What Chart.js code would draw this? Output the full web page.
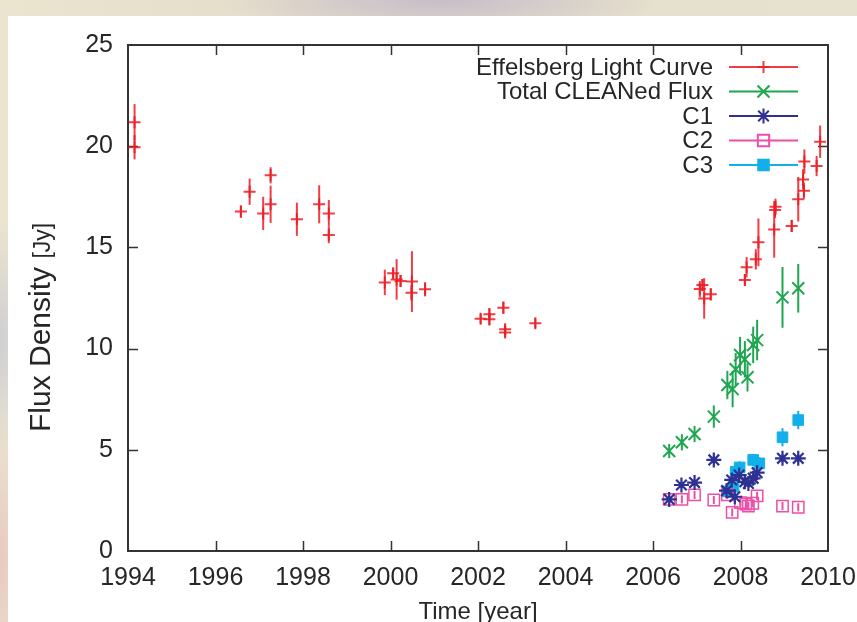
<!DOCTYPE html>
<html>
<head>
<meta charset="utf-8">
<title>Flux Density</title>
<script src="https://cdn.jsdelivr.net/npm/chart.js@4.4.0/dist/chart.umd.min.js"></script>
<style>
html, body { margin: 0; padding: 0; }
body {
    width: 857px; height: 622px; overflow: hidden; position: relative;
    background:
        radial-gradient(ellipse 220px 40px at 440px 0px, #c6bec8 0%, rgba(198,190,200,0) 100%),
        radial-gradient(ellipse 30px 120px at 0px 340px, #cfcfd2 0%, rgba(207,207,210,0) 100%),
        radial-gradient(ellipse 30px 140px at 0px 560px, #e9c9c2 0%, rgba(233,201,194,0) 100%),
        linear-gradient(90deg, #ebe4cf 0%, #e4dccb 40%, #e7e2cf 100%);
}
#card { position: absolute; left: 8px; top: 16px; right: 0; bottom: 0; background: #fff; }
#fluxChart { position: absolute; left: 0; top: 0; }
</style>
</head>
<body>
<div id="card"></div>
<canvas id="fluxChart" width="857" height="622"></canvas>
<script>
const yearTicks = [1994, 1996, 1998, 2000, 2002, 2004, 2006, 2008, 2010];
const fluxTicks = [0, 5, 10, 15, 20, 25];

// Effelsberg single-dish light curve
const effYear = [1994.15, 1994.15, 1996.58, 1996.78, 1997.09, 1997.26, 1997.26, 1997.86, 1998.37, 1998.59, 1998.59,
    1999.87, 2000.06, 2000.14, 2000.23, 2000.49, 2000.48, 2000.79, 2002.06, 2002.26, 2002.26, 2002.58, 2002.62, 2002.62, 2003.31,
    2007.07, 2007.13, 2007.17, 2007.32, 2008.10, 2008.14, 2008.35, 2008.41, 2008.77, 2008.79, 2008.80,
    2009.17, 2009.32, 2009.43, 2009.45, 2009.46, 2009.74, 2009.82];
const effFlux = [21.18, 19.95, 16.77, 17.75, 16.68, 18.56, 17.13, 16.39, 17.13, 16.68, 15.61,
    13.27, 13.72, 13.42, 13.34, 13.31, 12.76, 12.93, 11.48, 11.70, 11.45, 12.02, 10.95, 10.80, 11.25,
    12.94, 13.14, 12.48, 12.68, 13.39, 14.02, 14.41, 15.25, 15.89, 16.85, 17.01,
    16.06, 17.38, 18.36, 17.80, 19.24, 19.02, 20.22];
const effErr = [0.9, 0.6, 0.3, 0.65, 0.82, 0.4, 0.92, 0.82, 0.94, 0.66, 0.4,
    0.63, 0.25, 1.0, 0.3, 1.5, 0.4, 0.35, 0.25, 0.3, 0.3, 0.3, 0.25, 0.25, 0.25,
    0.4, 0.3, 1.0, 0.3, 0.3, 0.5, 0.5, 1.18, 1.4, 0.4, 0.4,
    0.3, 1.1, 0.5, 0.4, 0.6, 0.5, 0.8];

// VLBI: total CLEANed flux and model components
const totYear = [2006.37, 2006.66, 2006.95, 2007.39, 2007.70, 2007.82, 2007.89, 2007.99, 2008.10, 2008.16, 2008.29, 2008.38, 2008.96, 2009.32];
const totFlux = [4.94, 5.37, 5.78, 6.64, 8.20, 8.00, 8.98, 9.68, 9.47, 8.58, 10.18, 10.42, 12.53, 12.98];
const totErr = [0.35, 0.4, 0.4, 0.55, 0.7, 0.9, 0.8, 0.9, 0.9, 0.7, 0.9, 1.0, 1.5, 1.2];

const c1Year = [2006.37, 2006.65, 2006.95, 2007.39, 2007.68, 2007.80, 2007.87, 2007.97, 2008.10, 2008.18, 2008.29, 2008.38, 2008.96, 2009.32];
const c1Flux = [2.55, 3.26, 3.38, 4.50, 2.98, 3.51, 2.68, 3.75, 3.42, 3.34, 3.59, 3.87, 4.58, 4.58];
const c1Err = [0.15, 0.15, 0.15, 0.2, 0.15, 0.2, 0.15, 0.2, 0.2, 0.15, 0.2, 0.2, 0.2, 0.2];

const c2Year = [2006.37, 2006.66, 2006.95, 2007.39, 2007.70, 2007.81, 2008.00, 2008.12, 2008.18, 2008.28, 2008.38, 2008.96, 2009.32];
const c2Flux = [2.55, 2.55, 2.77, 2.52, 2.77, 1.91, 2.39, 2.32, 2.22, 2.36, 2.72, 2.22, 2.16];
const c2Err = [0.2, 0.2, 0.2, 0.2, 0.2, 0.2, 0.2, 0.2, 0.2, 0.2, 0.2, 0.2, 0.2];

const c3Year = [2007.70, 2007.84, 2007.89, 2007.98, 2008.29, 2008.43, 2008.96, 2009.32];
const c3Flux = [2.95, 3.18, 3.92, 4.13, 4.50, 4.33, 5.62, 6.47];
const c3Err = [0.2, 0.2, 0.3, 0.3, 0.3, 0.3, 0.45, 0.45];

const FONT = "'Liberation Sans', Arial, sans-serif";
const INK = '#262626';

function points(xs, ys) {
    return xs.map((x, i) => ({ x: x, y: ys[i] }));
}

// vertical error bars, drawn under the markers
const errorBars = {
    id: 'errorBars',
    beforeDatasetsDraw(chart) {
        const ctx = chart.ctx;
        const xs = chart.scales.x, ys = chart.scales.y;
        ctx.save();
        chart.data.datasets.forEach(ds => {
            if (!ds.errors) return;
            ctx.strokeStyle = ds.borderColor;
            ctx.lineWidth = 2;
            ds.data.forEach((p, i) => {
                const e = ds.errors[i];
                const px = xs.getPixelForValue(p.x);
                ctx.beginPath();
                ctx.moveTo(px, ys.getPixelForValue(p.y - e));
                ctx.lineTo(px, ys.getPixelForValue(p.y + e));
                ctx.stroke();
            });
        });
        ctx.restore();
    }
};

// box frame with inward ticks on all four sides
const frame = {
    id: 'frame',
    beforeDatasetsDraw(chart) {
        const ctx = chart.ctx;
        const a = chart.chartArea;
        const xs = chart.scales.x, ys = chart.scales.y;
        const len = 10;
        ctx.save();
        ctx.strokeStyle = '#333';
        ctx.lineWidth = 2;
        ctx.strokeRect(a.left, a.top, a.right - a.left, a.bottom - a.top);
        ctx.lineWidth = 1.5;
        ctx.beginPath();
        yearTicks.slice(1, -1).forEach(v => {
            const px = Math.round(xs.getPixelForValue(v)) + 0.5;
            ctx.moveTo(px, a.bottom); ctx.lineTo(px, a.bottom - len);
            ctx.moveTo(px, a.top); ctx.lineTo(px, a.top + len);
        });
        fluxTicks.slice(1, -1).forEach(v => {
            const py = Math.round(ys.getPixelForValue(v)) + 0.5;
            ctx.moveTo(a.left, py); ctx.lineTo(a.left + len, py);
            ctx.moveTo(a.right, py); ctx.lineTo(a.right - len, py);
        });
        ctx.stroke();
        ctx.restore();
    }
};

// rotated y title, unit in a smaller face
const yTitle = {
    id: 'yTitle',
    afterDraw(chart) {
        const ctx = chart.ctx;
        const main = 'Flux Density ', unit = '[Jy]';
        ctx.save();
        ctx.translate(50, 432);
        ctx.rotate(-Math.PI / 2);
        ctx.fillStyle = INK;
        ctx.textAlign = 'left';
        ctx.textBaseline = 'alphabetic';
        ctx.font = '30px ' + FONT;
        ctx.fillText(main, 0, 0);
        const w = ctx.measureText(main).width;
        ctx.font = '23px ' + FONT;
        ctx.fillText(unit, w, 0);
        ctx.restore();
    }
};

// key in the upper right: label, then a line sample with the marker
const keyBox = {
    id: 'keyBox',
    afterDraw(chart) {
        const ctx = chart.ctx;
        const textRight = 713, lineL = 729, lineR = 798, y0 = 67, step = 24.5;
        ctx.save();
        ctx.font = '24px ' + FONT;
        ctx.textAlign = 'right';
        ctx.textBaseline = 'middle';
        chart.data.datasets.forEach((ds, i) => {
            const y = y0 + i * step;
            ctx.fillStyle = INK;
            ctx.fillText(ds.label, textRight, y + 1);
            ctx.strokeStyle = ds.borderColor;
            ctx.lineWidth = 2;
            ctx.beginPath();
            ctx.moveTo(lineL, y); ctx.lineTo(lineR, y);
            ctx.stroke();
            ctx.fillStyle = ds.backgroundColor;
            Chart.helpers.drawPoint(ctx, {
                pointStyle: ds.pointStyle, radius: ds.pointRadius,
                borderWidth: ds.borderWidth, rotation: 0
            }, (lineL + lineR) / 2, y);
        });
        ctx.restore();
    }
};

new Chart(document.getElementById('fluxChart').getContext('2d'), {
    type: 'scatter',
    data: {
        datasets: [{
            label: 'Effelsberg Light Curve',
            data: points(effYear, effFlux),
            errors: effErr,
            pointStyle: 'cross', pointRadius: 6, borderWidth: 2,
            borderColor: 'rgba(236,28,36,0.85)', backgroundColor: 'rgba(236,28,36,0.85)'
        }, {
            label: 'Total CLEANed Flux',
            data: points(totYear, totFlux),
            errors: totErr,
            pointStyle: 'crossRot', pointRadius: 8.5, borderWidth: 2,
            borderColor: '#1fa650', backgroundColor: '#1fa650'
        }, {
            label: 'C1',
            data: points(c1Year, c1Flux),
            errors: c1Err,
            pointStyle: 'star', pointRadius: 7.5, borderWidth: 2.2,
            borderColor: '#2e3192', backgroundColor: '#2e3192'
        }, {
            label: 'C2',
            data: points(c2Year, c2Flux),
            errors: c2Err,
            pointStyle: 'rect', pointRadius: 8, borderWidth: 1.5,
            borderColor: '#ee4fa6', backgroundColor: 'rgba(255,255,255,0)'
        }, {
            label: 'C3',
            data: points(c3Year, c3Flux),
            errors: c3Err,
            pointStyle: 'rect', pointRadius: 7.5, borderWidth: 1,
            borderColor: '#12b0ea', backgroundColor: '#12b0ea'
        }]
    },
    options: {
        responsive: false,
        animation: false,
        layout: { padding: { top: 45, right: 29, left: 0, bottom: 0 } },
        plugins: {
            legend: { display: false },
            tooltip: { enabled: false }
        },
        scales: {
            x: {
                type: 'linear', min: 1994, max: 2010,
                afterBuildTicks: s => { s.ticks = yearTicks.map(v => ({ value: v })); },
                afterFit: s => { s.height = 71; s.paddingLeft = 0; s.paddingRight = 0; },
                grid: { display: false, drawTicks: false },
                border: { display: false },
                ticks: {
                    padding: 12, color: INK, font: { family: FONT, size: 25 },
                    maxRotation: 0, callback: v => String(v)
                },
                title: {
                    display: true, text: 'Time [year]', color: INK,
                    font: { family: FONT, size: 24 }, padding: { top: 0, bottom: -5 }
                }
            },
            y: {
                min: 0, max: 25,
                afterBuildTicks: s => { s.ticks = fluxTicks.map(v => ({ value: v })); },
                afterFit: s => { s.width = 128; s.paddingTop = 0; s.paddingBottom = 0; },
                grid: { display: false, drawTicks: false },
                border: { display: false },
                ticks: {
                    padding: 15, color: INK, font: { family: FONT, size: 25 },
                    callback: v => String(v)
                }
            }
        }
    },
    plugins: [frame, errorBars, yTitle, keyBox]
});
</script>
</body>
</html>
